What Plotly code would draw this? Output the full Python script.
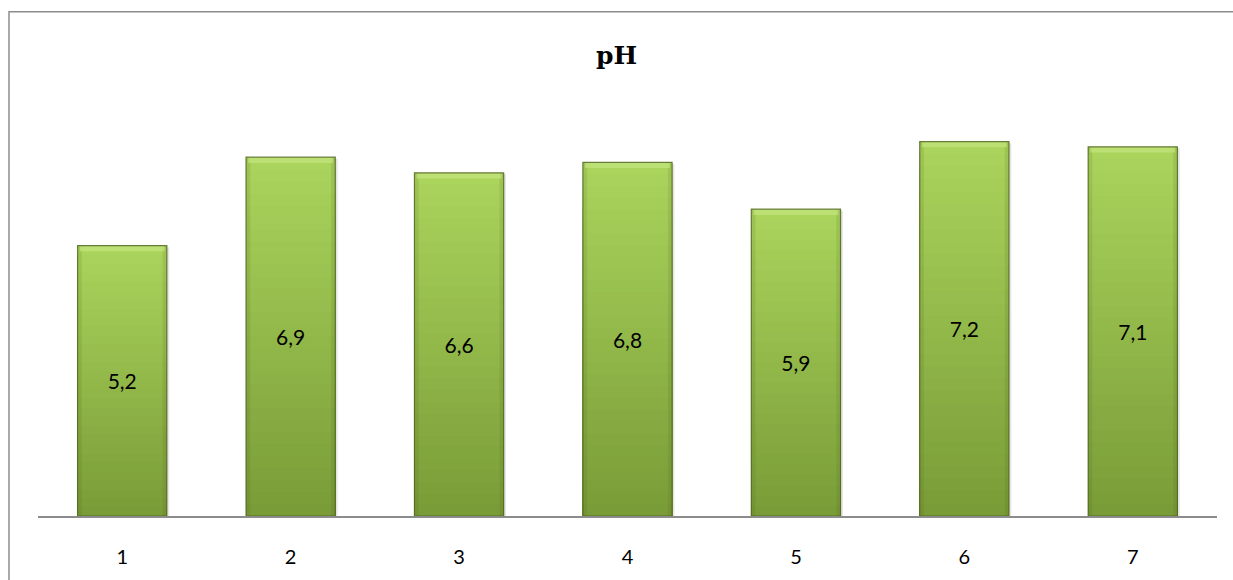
import plotly.graph_objects as go

# pH measurements per sample
samples = ["1", "2", "3", "4", "5", "6", "7"]
ph_values = [5.2, 6.9, 6.6, 6.8, 5.9, 7.2, 7.1]
value_labels = ["5,2", "6,9", "6,6", "6,8", "5,9", "7,2", "7,1"]

BAR_W = 0.53
TOP_RGB = (170, 212, 92)
BOT_RGB = (122, 156, 56)
N_STEPS = 30
EDGE_W = 0.025


def mix(t):
    r = [round(TOP_RGB[i] * (1 - t) + BOT_RGB[i] * t) for i in range(3)]
    return f"rgb({r[0]},{r[1]},{r[2]})"


fig = go.Figure()

# faint drop shadow under each bar
fig.add_trace(go.Bar(
    x=samples, y=ph_values, width=BAR_W + 0.012, offset=-BAR_W / 2 + 0.002,
    base=[-0.03] * len(ph_values),
    marker=dict(color="rgba(0,0,0,0.10)", line=dict(width=0)),
    hoverinfo="skip", showlegend=False,
))

# vertical gradient: progressively darker, shorter bars laid over each other
for k in range(N_STEPS):
    t = k / (N_STEPS - 1)
    heights = [v * (1 - k / N_STEPS) for v in ph_values]
    fig.add_trace(go.Bar(
        x=samples, y=heights, width=BAR_W,
        marker=dict(color=mix(t), line=dict(width=0)),
        hoverinfo="skip", showlegend=False,
    ))

# slightly darker bevel strips down both sides
for off in (-BAR_W / 2, BAR_W / 2 - EDGE_W):
    fig.add_trace(go.Bar(
        x=samples, y=ph_values, width=EDGE_W, offset=off,
        marker=dict(color="rgba(70,95,20,0.13)", line=dict(width=0)),
        hoverinfo="skip", showlegend=False,
    ))

# light bevel along the top edge
bevel = 0.11
fig.add_trace(go.Bar(
    x=samples, y=[bevel] * len(ph_values), base=[v - bevel for v in ph_values],
    width=BAR_W * 0.95,
    marker=dict(color="rgba(196,230,128,0.7)", line=dict(width=0)),
    hoverinfo="skip", showlegend=False,
))

# outline + value labels
fig.add_trace(go.Bar(
    x=samples, y=ph_values, width=BAR_W,
    text=value_labels, textposition="inside", insidetextanchor="middle",
    textfont=dict(family="Lato, Open Sans, sans-serif", size=21, color="#000000"),
    marker=dict(color="rgba(0,0,0,0)", line=dict(color="rgba(78,98,30,0.8)", width=1.2)),
    showlegend=False,
))

fig.update_layout(
    width=1233, height=580,
    barmode="overlay",
    paper_bgcolor="white", plot_bgcolor="white",
    margin=dict(l=38, r=16, t=100, b=61),
    title=dict(
        text="<b>pH</b>", x=0.5, xanchor="center", y=0.905, yanchor="middle",
        font=dict(family="DejaVu Serif, Liberation Serif, serif", size=25, color="#000000"),
    ),
    xaxis=dict(
        showline=True, linecolor="#8c8c8c", linewidth=2,
        ticks="", showgrid=False, ticklabelstandoff=22,
        tickfont=dict(family="Lato, Open Sans, sans-serif", size=20, color="#000000"),
    ),
    yaxis=dict(range=[0, 8], visible=False, showgrid=False),
    shapes=[dict(
        type="rect", xref="paper", yref="paper",
        x0=-0.0246, x1=1.05, y0=-0.2, y1=1.2124,
        line=dict(color="#8c8c8c", width=1.5), layer="below",
    )],
)

fig.write_html("out.html", config={"displayModeBar": False})
